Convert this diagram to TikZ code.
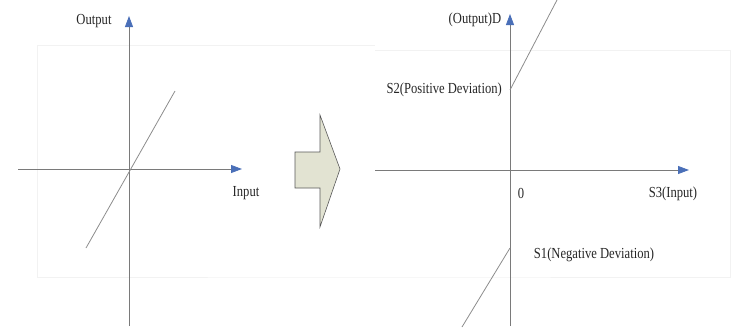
\documentclass[tikz,border=0pt]{standalone}
\usepackage{fontspec}
\usepackage{graphicx}
\setmainfont{Liberation Serif}
\usetikzlibrary{arrows.meta}
\definecolor{axisgray}{HTML}{7A7A7A}
\definecolor{linegray}{HTML}{8C8C8C}
\definecolor{tipblue}{HTML}{4A6FB8}
\definecolor{arrowfill}{HTML}{E2E3D2}
\definecolor{framegray}{HTML}{F2F2F2}
\newcommand{\talltxt}[1]{\scalebox{0.97}[1.18]{#1}}
\begin{document}
\begin{tikzpicture}[x=1pt,y=-1pt,
  axis/.style={draw=axisgray,line width=0.8pt,-{Triangle[length=11pt,width=8pt,fill=tipblue,color=tipblue]}},
  curve/.style={draw=linegray,line width=0.8pt},
  lbl/.style={font=\fontsize{13}{15}\selectfont,inner sep=0pt,text=black!85},
  frame/.style={draw=framegray,line width=1pt}]
\useasboundingbox (0,0) rectangle (749,327);
% faint frames
\draw[frame] (37,277) -- (37,45) -- (375,45);
\draw[frame] (375,50) -- (730,50) -- (730,277) -- (375,277) -- (37,277);
% left plot
\coordinate (lyb) at (129,326);
\coordinate (lyt) at (129,16);
\coordinate (lxl) at (18,169);
\coordinate (lxr) at (242,169);
\coordinate (la) at (86,248);
\coordinate (lb) at (175,91);
\draw[axis] (lyb) -- (lyt);
\draw[axis] (lxl) -- (lxr);
\draw[curve] (la) -- (lb);
\node[lbl] (lout) at (94,21) {\talltxt{Output}};
\node[lbl] (lin) at (246,193) {\talltxt{Input}};
% block arrow
\draw[draw=black!65,fill=arrowfill,line width=0.6pt]
  (295,152) -- (320,152) -- (320,115) -- (340,169) -- (320,227) -- (320,188) -- (295,188) -- cycle;
% right plot
\coordinate (ryb) at (510,326);
\coordinate (ryt) at (510,14);
\coordinate (rxl) at (375,170);
\coordinate (rxr) at (689,170);
\coordinate (ra) at (510,90);
\coordinate (rb) at (557,0);
\coordinate (rc) at (510,248);
\coordinate (rd) at (462,327);
\draw[axis] (ryb) -- (ryt);
\draw[axis] (rxl) -- (rxr);
\draw[curve] (ra) -- (rb);
\draw[curve] (rc) -- (rd);
\node[lbl] (rout) at (475,20) {\talltxt{(Output)D}};
\node[lbl,anchor=east] (s2) at (502,90) {\talltxt{S2(Positive Deviation)}};
\node[lbl] (zero) at (521,193) {\talltxt{0}};
\node[lbl] (s3) at (673,194) {\talltxt{S3(Input)}};
\node[lbl] (s1) at (594,255) {\talltxt{S1(Negative Deviation)}};
\end{tikzpicture}
\end{document}
